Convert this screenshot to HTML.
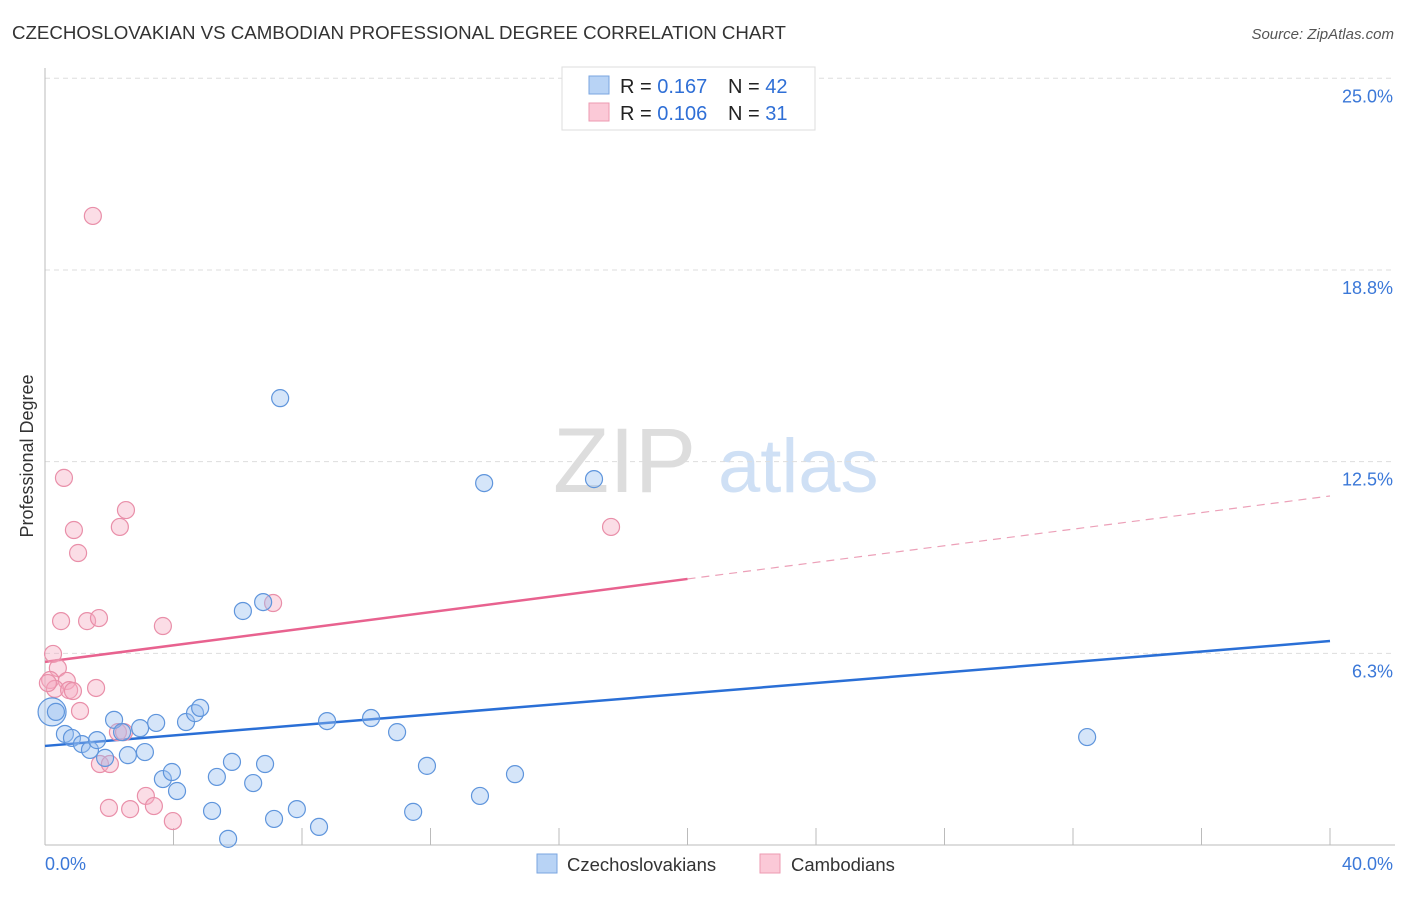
<!DOCTYPE html>
<html><head><meta charset="utf-8"><style>
body{margin:0;background:#fff;font-family:"Liberation Sans",sans-serif;}
svg text{font-family:"Liberation Sans",sans-serif;}
</style></head><body>
<svg id="chart" width="1406" height="892">
<text x="12" y="39" font-size="18.7" fill="#333">CZECHOSLOVAKIAN VS CAMBODIAN PROFESSIONAL DEGREE CORRELATION CHART</text>
<text x="1394" y="39" font-size="15" fill="#555" font-style="italic" text-anchor="end">Source: ZipAtlas.com</text>
<text x="33" y="456" font-size="18" fill="#333" text-anchor="middle" transform="rotate(-90 33 456)">Professional Degree</text>
<g>
<text x="553" y="492" font-size="92" fill="#ddd" font-family="Liberation Serif,serif">ZIP</text>
<text x="718" y="492" font-size="76" fill="#cfe0f5">atlas</text>
</g>
<g id="grid"></g>
<g id="axes"></g>
<g id="lines"></g>
<g id="pts"></g>
<g>
<rect x="562" y="67" width="253" height="63" fill="#fff" stroke="#ddd"/>
<rect x="589" y="76" width="20" height="18" fill="#b8d3f5" stroke="#7aa6e0"/>
<rect x="589" y="103" width="20" height="18" fill="#fbc9d7" stroke="#ec9ab2"/>
<text x="620" y="93" font-size="20" fill="#222">R = <tspan fill="#2f6fd6"> 0.167</tspan></text>
<text x="728" y="93" font-size="20" fill="#222">N = <tspan fill="#2f6fd6">42</tspan></text>
<text x="620" y="120" font-size="20" fill="#222">R = <tspan fill="#2f6fd6">0.106</tspan></text>
<text x="728" y="120" font-size="20" fill="#222">N = <tspan fill="#2f6fd6"> 31</tspan></text>
</g>
<g>
<rect x="537" y="854" width="20" height="19" fill="#b8d3f5" stroke="#7aa6e0"/>
<text x="567" y="871" font-size="18.5" fill="#333">Czechoslovakians</text>
<rect x="760" y="854" width="20" height="19" fill="#fbc9d7" stroke="#ec9ab2"/>
<text x="791" y="871" font-size="18.5" fill="#333">Cambodians</text>
</g>
</svg>
<script>
const blueX=[0.22,0.34,0.62,0.84,1.15,1.40,1.62,1.87,2.15,2.40,2.58,2.96,3.11,3.46,3.67,3.95,4.11,4.39,4.67,4.83,5.20,5.35,5.70,5.82,6.16,6.48,6.79,6.85,7.13,7.32,7.84,8.53,8.78,10.15,10.96,11.46,11.89,13.54,13.67,14.63,17.09,32.44];
const blueY=[4.34,4.34,3.62,3.49,3.29,3.10,3.42,2.84,4.08,3.68,2.93,3.81,3.03,3.98,2.15,2.38,1.76,4.01,4.30,4.47,1.11,2.22,0.20,2.71,7.63,2.02,7.92,2.64,0.85,14.57,1.17,0.59,4.04,4.14,3.68,1.08,2.58,1.60,11.80,2.31,11.93,3.52];
const pinkX=[1.49,0.59,0.90,1.03,2.52,2.33,17.62,7.10,0.50,1.31,1.68,3.67,0.25,0.40,0.16,0.68,0.31,0.75,0.87,1.59,1.09,2.27,1.71,2.02,1.99,2.65,3.14,3.39,3.98,0.09,2.46];
const pinkY=[20.51,11.97,10.27,9.52,10.92,10.37,10.37,7.89,7.30,7.30,7.40,7.14,6.23,5.77,5.38,5.35,5.09,5.05,5.02,5.12,4.37,3.68,2.64,2.64,1.21,1.17,1.60,1.27,0.78,5.28,3.68];
const blueTrend=[3.23,6.65];
const pinkTrend=[5.97,11.38];
const pinkSolidEnd=20;
const yTicks=[25.0,18.75,12.5,6.25];
const yTickLabels=["25.0%","18.8%","12.5%","6.3%"];
const xTicks=[4,8,12,16,20,24,28,32,36,40];
const NS="http://www.w3.org/2000/svg";
const sx=v=>45+v*32.125;
const sy=v=>845-v*30.67;
function mk(tag,attrs,parent){const e=document.createElementNS(NS,tag);for(const k in attrs)e.setAttribute(k,attrs[k]);document.getElementById(parent).appendChild(e);return e;}
yTicks.forEach((t,i)=>{
 const y=sy(t);
 const l=mk('line',{x1:45,x2:1395,y1:y,y2:y,stroke:'#ddd','stroke-dasharray':'5,4'},'grid');
 
 
 const tx=mk('text',{x:1393,y:y+24,'font-size':18,fill:'#3b78d8','text-anchor':'end'},'grid');
 tx.textContent=yTickLabels[i];
 
 
});
const ax=mk('line',{x1:45,x2:45,y1:68,y2:845,stroke:'#bbb'},'axes');


const bx=mk('line',{x1:45,x2:1395,y1:845,y2:845,stroke:'#bbb'},'axes');


xTicks.forEach(t=>{
 const l=mk('line',{x1:sx(t),x2:sx(t),y1:828,y2:845,stroke:'#bbb'},'axes');
 
 
});
const x0=mk('text',{x:45,y:870,'font-size':18,fill:'#3b78d8'},'axes');x0.textContent='0.0%';


const x1=mk('text',{x:1393,y:870,'font-size':18,fill:'#3b78d8','text-anchor':'end'},'axes');x1.textContent='40.0%';


function drawPts(X,Y,fill,stroke,name,bigIdx){X.forEach((x,i)=>{
 const c=mk('circle',{cx:sx(x),cy:sy(Y[i]),r:i===bigIdx?14:8.5,fill:fill,stroke:stroke,'stroke-width':1.2},'pts');
 
 
});}
drawPts(pinkX,pinkY,'rgba(246,170,192,0.4)','#e98fa9','cambodian-point',-1);
drawPts(blueX,blueY,'rgba(150,190,240,0.4)','#5f95dc','czechoslovakian-point',0);
const pAt=x=>pinkTrend[0]+(pinkTrend[1]-pinkTrend[0])*x/40;
const bl=mk('line',{x1:sx(0),y1:sy(blueTrend[0]),x2:sx(40),y2:sy(blueTrend[1]),stroke:'#2a6fd6','stroke-width':2.5},'lines');


const pl=mk('line',{x1:sx(0),y1:sy(pinkTrend[0]),x2:sx(pinkSolidEnd),y2:sy(pAt(pinkSolidEnd)),stroke:'#e8628f','stroke-width':2.5},'lines');


const pd=mk('line',{x1:sx(pinkSolidEnd),y1:sy(pAt(pinkSolidEnd)),x2:sx(40),y2:sy(pinkTrend[1]),stroke:'#eca0b8','stroke-width':1.2,'stroke-dasharray':'8,6'},'lines');


</script>
</body></html>
